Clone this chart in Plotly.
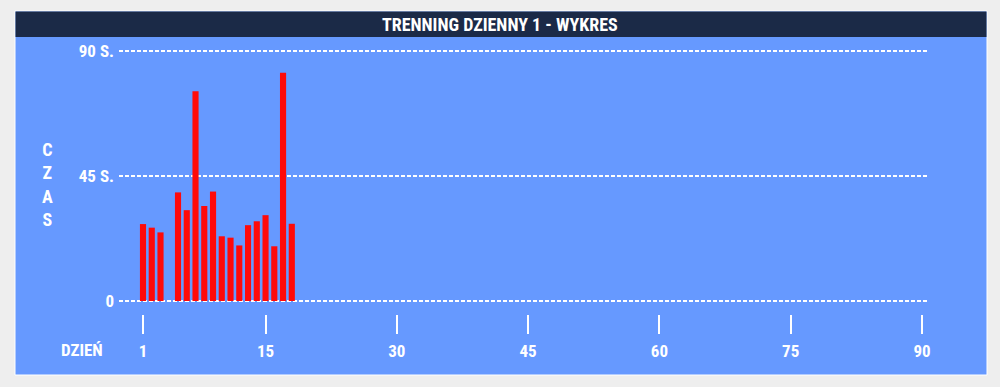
import plotly.graph_objects as go

# Data
days = [1, 2, 3, 5, 6, 7, 8, 9, 10, 11, 12, 13, 14, 15, 16, 17, 18]
seconds = [27.7, 26.4, 24.7, 39.1, 32.7, 75.5, 34.2, 39.4, 23.3, 22.8, 20.0, 27.3, 28.7, 30.9, 19.7, 82.2, 27.8]
x_ticks = [1, 15, 30, 45, 60, 75, 90]
y_ticks = [0, 45, 90]
y_tick_labels = ["0", "45 S.", "90 S."]
title_text = "TRENNING DZIENNY 1 - WYKRES"

FONT = "Roboto Condensed, Liberation Sans Narrow, sans-serif"
BLUE = "#6699ff"
NAVY = "#1b2a47"

W, H = 1000, 387
L, R, T, B = 119, 928, 45, 334  # plot area pixels
Y0, Y90 = 301, 51               # pixel rows of 0 s and 90 s
PPS = (Y0 - Y90) / 90           # pixels per second
PPD = (922 - 143) / 89          # pixels per day


def px(xp):
    return (xp - L) / (R - L)


def py(yp):
    return (B - yp) / (B - T)


fig = go.Figure()
fig.add_trace(go.Bar(x=days, y=seconds, marker=dict(color="#ff0a0a", line=dict(width=0)),
                     width=0.7, hoverinfo="x+y"))

shapes = [
    dict(type="rect", xref="paper", yref="paper", x0=px(15), x1=px(987), y0=py(375), y1=py(11),
         fillcolor=BLUE, line=dict(color="#ffffff", width=1), layer="below"),
    dict(type="rect", xref="paper", yref="paper", x0=px(15.5), x1=px(986.5), y0=py(37), y1=py(11.5),
         fillcolor=NAVY, line=dict(width=0), layer="below"),
]

annotations = [
    dict(text=title_text, xref="paper", yref="paper", x=px(500), y=py(24.5), showarrow=False,
         font=dict(family=FONT, size=18, color="white", weight="bold"), xanchor="center", yanchor="middle"),
    dict(text="C<br>Z<br>A<br>S", xref="paper", yref="paper", x=px(47), y=py(184), showarrow=False,
         font=dict(family=FONT, size=18, color="white", weight="bold"), xanchor="center", yanchor="middle"),
    dict(text="DZIEŃ", xref="paper", yref="paper", x=px(82), y=py(350), showarrow=False,
         font=dict(family=FONT, size=17, color="white", weight="bold"), xanchor="center", yanchor="middle"),
]

fig.update_layout(
    width=W, height=H,
    margin=dict(l=L, r=W - R, t=T, b=H - B, pad=0),
    paper_bgcolor="#eeeeee",
    plot_bgcolor="rgba(0,0,0,0)",
    shapes=shapes,
    annotations=annotations,
    showlegend=False,
    xaxis=dict(
        range=[1 - (143 - L) / PPD, 90 + (R - 922) / PPD],
        tickvals=x_ticks, ticktext=[str(v) for v in x_ticks],
        ticks="inside", ticklen=19, tickwidth=2, tickcolor="white",
        showgrid=False, zeroline=False, showline=False,
        tickfont=dict(family=FONT, size=17, color="white", weight="bold"),
        ticklabelstandoff=5,
        fixedrange=True,
    ),
    yaxis=dict(
        range=[-(B - Y0) / PPS, 90 + (Y90 - T) / PPS],
        tickvals=y_ticks, ticktext=y_tick_labels,
        showgrid=True, gridcolor="white", griddash="4px,2px", gridwidth=2,
        zeroline=False, showline=False, ticks="",
        tickfont=dict(family=FONT, size=17, color="white", weight="bold"),
        ticklabelstandoff=4,
        fixedrange=True,
    ),
)

fig.write_html("out.html", config={"displayModeBar": False},
               post_script="document.body.style.margin='0';document.body.style.background='#eeeeee';")
